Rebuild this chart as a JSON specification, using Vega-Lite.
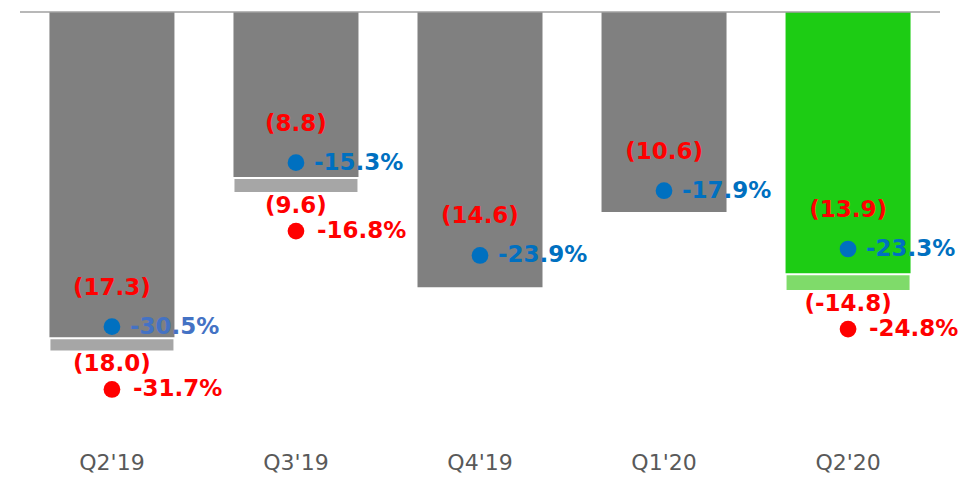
{
  "$schema": "https://vega.github.io/schema/vega-lite/v6.json",
  "width": 920,
  "height": 420,
  "autosize": {"type": "none"},
  "padding": {"left": 20, "right": 20, "top": 12, "bottom": 45},
  "background": "white",
  "config": {"view": {"stroke": null}, "font": "DejaVu Sans"},
  "data": {"values": [
    {"q": "Q2'19", "main": -17.3, "light": -18.0, "pm": -30.5, "pl": -31.7, "lm": "(17.3)", "ll": "(18.0)", "tpm": "-30.5%", "tpl": "-31.7%"},
    {"q": "Q3'19", "main": -8.8, "light": -9.6, "pm": -15.3, "pl": -16.8, "lm": "(8.8)", "ll": "(9.6)", "tpm": "-15.3%", "tpl": "-16.8%"},
    {"q": "Q4'19", "main": -14.6, "light": null, "pm": -23.9, "pl": null, "lm": "(14.6)", "ll": null, "tpm": "-23.9%", "tpl": null},
    {"q": "Q1'20", "main": -10.6, "light": null, "pm": -17.9, "pl": null, "lm": "(10.6)", "ll": null, "tpm": "-17.9%", "tpl": null},
    {"q": "Q2'20", "main": -13.9, "light": -14.8, "pm": -23.3, "pl": -24.8, "lm": "(13.9)", "ll": "(-14.8)", "tpm": "-23.3%", "tpl": "-24.8%"}
  ]},
  "resolve": {"scale": {"y": "independent"}},
  "layer": [
    {
      "mark": {"type": "bar"},
      "encoding": {
        "x": {"field": "q", "type": "nominal", "sort": null, "title": null,
              "scale": {"paddingInner": 0.3207, "paddingOuter": 0.16},
              "axis": {"domain": false, "ticks": false, "labelAngle": 0, "labelFontSize": 22, "labelColor": "#595959", "labelPadding": 20, "labelFont": "DejaVu Sans"}},
        "y": {"field": "main", "type": "quantitative", "scale": {"domain": [-22.27, 0]}, "axis": null},
        "y2": {"datum": 0},
        "color": {"condition": {"test": "datum.q == \"Q2'20\"", "value": "#1DCC14"}, "value": "#808080"}
      }
    },
    {
      "transform": [{"filter": "datum.light != null"}],
      "mark": {"type": "bar", "stroke": "white", "strokeWidth": 2},
      "encoding": {
        "x": {"field": "q", "type": "nominal", "sort": null, "title": null, "scale": {"paddingInner": 0.3207, "paddingOuter": 0.16}},
        "y": {"field": "main", "type": "quantitative", "scale": {"domain": [-22.27, 0]}, "axis": null},
        "y2": {"field": "light"},
        "color": {"condition": {"test": "datum.q == \"Q2'20\"", "value": "#7FDB6A"}, "value": "#A6A6A6"}
      }
    },
    {
      "data": {"values": [{}]},
      "mark": {"type": "rule", "color": "#A0A0A0", "strokeWidth": 1.5},
      "encoding": {
        "y": {"datum": 0, "type": "quantitative", "scale": {"domain": [-22.27, 0]}, "axis": null}
      }
    },
    {
      "mark": {"type": "point", "filled": true, "opacity": 1, "size": 280, "color": "#0070C0"},
      "encoding": {
        "x": {"field": "q", "type": "nominal", "sort": null, "title": null, "scale": {"paddingInner": 0.3207, "paddingOuter": 0.16}},
        "y": {"field": "pm", "type": "quantitative", "scale": {"domain": [-40.26, -1.335]}, "axis": null}
      }
    },
    {
      "mark": {"type": "text", "align": "left", "baseline": "middle", "dx": 18, "fontSize": 23, "fontWeight": "bold", "font": "DejaVu Sans"},
      "encoding": {
        "x": {"field": "q", "type": "nominal", "sort": null, "title": null, "scale": {"paddingInner": 0.3207, "paddingOuter": 0.16}},
        "y": {"field": "pm", "type": "quantitative", "scale": {"domain": [-40.26, -1.335]}, "axis": null},
        "text": {"field": "tpm"},
        "color": {"condition": {"test": "datum.q == \"Q2'19\"", "value": "#4472C4"}, "value": "#0070C0"}
      }
    },
    {
      "mark": {"type": "text", "align": "center", "baseline": "middle", "yOffset": -39, "fontSize": 23, "fontWeight": "bold", "font": "DejaVu Sans", "color": "#FF0000"},
      "encoding": {
        "x": {"field": "q", "type": "nominal", "sort": null, "title": null, "scale": {"paddingInner": 0.3207, "paddingOuter": 0.16}},
        "y": {"field": "pm", "type": "quantitative", "scale": {"domain": [-40.26, -1.335]}, "axis": null},
        "text": {"field": "lm"}
      }
    },
    {
      "transform": [{"filter": "datum.light != null"}],
      "mark": {"type": "text", "align": "center", "baseline": "middle", "yOffset": 13, "fontSize": 23, "fontWeight": "bold", "font": "DejaVu Sans", "color": "#FF0000"},
      "encoding": {
        "x": {"field": "q", "type": "nominal", "sort": null, "title": null, "scale": {"paddingInner": 0.3207, "paddingOuter": 0.16}},
        "y": {"field": "light", "type": "quantitative", "scale": {"domain": [-22.27, 0]}, "axis": null},
        "text": {"field": "ll"}
      }
    },
    {
      "transform": [{"filter": "datum.light != null"}],
      "mark": {"type": "point", "filled": true, "opacity": 1, "size": 280, "color": "#FF0000", "yOffset": 38},
      "encoding": {
        "x": {"field": "q", "type": "nominal", "sort": null, "title": null, "scale": {"paddingInner": 0.3207, "paddingOuter": 0.16}},
        "y": {"field": "light", "type": "quantitative", "scale": {"domain": [-22.27, 0]}, "axis": null}
      }
    },
    {
      "transform": [{"filter": "datum.light != null"}],
      "mark": {"type": "text", "align": "left", "baseline": "middle", "dx": 21, "yOffset": 38, "fontSize": 23, "fontWeight": "bold", "font": "DejaVu Sans", "color": "#FF0000"},
      "encoding": {
        "x": {"field": "q", "type": "nominal", "sort": null, "title": null, "scale": {"paddingInner": 0.3207, "paddingOuter": 0.16}},
        "y": {"field": "light", "type": "quantitative", "scale": {"domain": [-22.27, 0]}, "axis": null},
        "text": {"field": "tpl"}
      }
    }
  ]
}
